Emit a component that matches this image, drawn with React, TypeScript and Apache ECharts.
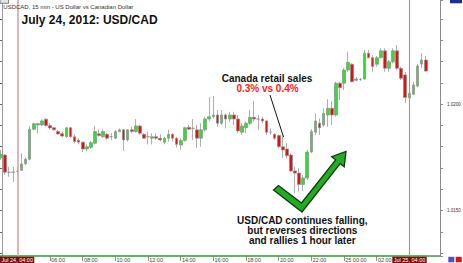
import React, { useEffect, useRef } from 'react';
import * as echarts from 'echarts';

// ---- data (USD/CAD 15-min candles, Jul 24 03:00 -> Jul 25 05:00) ----
const opens = [
  1.01748, 1.01761, 1.01680, 1.01680, 1.01684, 1.01689, 1.01720, 1.01741, 1.01882, 1.01902,
  1.01902, 1.01929, 1.01899, 1.01889, 1.01871, 1.01861, 1.01847, 1.01889, 1.01847, 1.01830,
  1.01821, 1.01789, 1.01797, 1.01816, 1.01861, 1.01847, 1.01858, 1.01847, 1.01840, 1.01871,
  1.01879, 1.01832, 1.01879, 1.01871, 1.01897, 1.01858, 1.01847, 1.01840, 1.01847, 1.01840,
  1.01821, 1.01840, 1.01858, 1.01840, 1.01808, 1.01829, 1.01891, 1.01886, 1.01879, 1.01840,
  1.01879, 1.01930, 1.01941, 1.01949, 1.01910, 1.01949, 1.01930, 1.01949, 1.01930, 1.01868,
  1.01889, 1.01910, 1.01938, 1.01930, 1.01930, 1.01921, 1.01868, 1.01858, 1.01852, 1.01800,
  1.01789, 1.01761, 1.01686, 1.01676, 1.01623, 1.01653, 1.01775, 1.01868, 1.01910, 1.01902,
  1.01949, 1.01980, 1.01949, 1.02098, 1.02098, 1.02160, 1.02187, 1.02112, 1.02116, 1.02118,
  1.02239, 1.02218, 1.02187, 1.02218, 1.02250, 1.02168, 1.02199, 1.02250, 1.02168, 1.02137,
  1.02030, 1.02046, 1.02085, 1.02188, 1.02207,
];
const closes = [
  1.01764, 1.01680, 1.01680, 1.01681, 1.01686, 1.01719, 1.01741, 1.01882, 1.01908, 1.01908,
  1.01921, 1.01899, 1.01888, 1.01880, 1.01860, 1.01850, 1.01889, 1.01847, 1.01824, 1.01821,
  1.01789, 1.01800, 1.01819, 1.01871, 1.01852, 1.01871, 1.01840, 1.01847, 1.01871, 1.01879,
  1.01832, 1.01879, 1.01871, 1.01897, 1.01863, 1.01840, 1.01847, 1.01847, 1.01840, 1.01832,
  1.01840, 1.01858, 1.01840, 1.01811, 1.01829, 1.01889, 1.01882, 1.01886, 1.01840, 1.01879,
  1.01930, 1.01941, 1.01949, 1.01910, 1.01949, 1.01930, 1.01949, 1.01930, 1.01874, 1.01897,
  1.01910, 1.01938, 1.01930, 1.01930, 1.01921, 1.01868, 1.01868, 1.01840, 1.01800, 1.01785,
  1.01758, 1.01686, 1.01676, 1.01623, 1.01653, 1.01775, 1.01871, 1.01921, 1.01889, 1.01957,
  1.01980, 1.01949, 1.02098, 1.02077, 1.02160, 1.02196, 1.02105, 1.02118, 1.02116, 1.02239,
  1.02218, 1.02176, 1.02218, 1.02250, 1.02168, 1.02199, 1.02250, 1.02168, 1.02121, 1.02031,
  1.02051, 1.02090, 1.02179, 1.02207, 1.02155,
];
const lows = [
  1.01738, 1.01667, 1.01659, 1.01633, 1.01672, 1.01686, 1.01714, 1.01736, 1.01877, 1.01863,
  1.01897, 1.01894, 1.01879, 1.01874, 1.01855, 1.01844, 1.01842, 1.01842, 1.01816, 1.01811,
  1.01774, 1.01780, 1.01789, 1.01811, 1.01847, 1.01842, 1.01832, 1.01832, 1.01836, 1.01868,
  1.01780, 1.01824, 1.01863, 1.01866, 1.01855, 1.01836, 1.01811, 1.01811, 1.01832, 1.01824,
  1.01811, 1.01824, 1.01824, 1.01796, 1.01785, 1.01824, 1.01879, 1.01832, 1.01793, 1.01800,
  1.01871, 1.01921, 1.01933, 1.01894, 1.01902, 1.01886, 1.01917, 1.01902, 1.01863, 1.01855,
  1.01863, 1.01902, 1.01917, 1.01879, 1.01910, 1.01855, 1.01855, 1.01832, 1.01793, 1.01746,
  1.01746, 1.01683, 1.01581, 1.01589, 1.01592, 1.01644, 1.01770, 1.01855, 1.01855, 1.01894,
  1.01894, 1.01902, 1.01941, 1.02019, 1.02066, 1.02152, 1.02102, 1.02106, 1.02109, 1.02113,
  1.02215, 1.02152, 1.02176, 1.02215, 1.02152, 1.02152, 1.02192, 1.02160, 1.02113, 1.02004,
  1.02026, 1.02043, 1.02079, 1.02168, 1.02152,
];
const highs = [
  1.01785, 1.01766, 1.01706, 1.01706, 1.01705, 1.01769, 1.01748, 1.01897, 1.01913, 1.01913,
  1.01929, 1.01933, 1.01910, 1.01894, 1.01879, 1.01871, 1.01892, 1.01892, 1.01858, 1.01840,
  1.01824, 1.01811, 1.01827, 1.01899, 1.01882, 1.01882, 1.01864, 1.01864, 1.01879, 1.01886,
  1.01883, 1.01883, 1.01894, 1.01930, 1.01902, 1.01864, 1.01871, 1.01863, 1.01863, 1.01858,
  1.01847, 1.01879, 1.01863, 1.01847, 1.01840, 1.01894, 1.01902, 1.01930, 1.01902, 1.01910,
  1.01941, 1.02033, 1.02038, 1.01972, 1.01972, 1.01957, 1.01964, 1.01964, 1.01949, 1.01910,
  1.01917, 1.01972, 1.02015, 1.01949, 1.01941, 1.01925, 1.01886, 1.01863, 1.01858, 1.01847,
  1.01816, 1.01769, 1.01706, 1.01699, 1.01667, 1.01785, 1.01883, 1.01957, 1.01933, 1.01980,
  1.02023, 1.02015, 1.02105, 1.02105, 1.02168, 1.02246, 1.02192, 1.02127, 1.02123, 1.02254,
  1.02254, 1.02230, 1.02226, 1.02262, 1.02262, 1.02207, 1.02262, 1.02277, 1.02176, 1.02151,
  1.02058, 1.02104, 1.02188, 1.02239, 1.02227,
];

// time slots: 15-minute bars starting Jul 24 03:00 (3 empty slots at the right edge)
const START_DAY = 24;
const START_MINUTES = 180;
const STEP_MINUTES = 15;
const SLOT_COUNT = 108;
const pad2 = (n: number) => (n < 10 ? '0' + n : '' + n);
const categories: string[] = Array.from({ length: SLOT_COUNT }, (_, i) => {
  const total = START_MINUTES + STEP_MINUTES * i;
  const day = START_DAY + Math.floor(total / 1440);
  const rem = total % 1440;
  return `Jul ${day} ${pad2(Math.floor(rem / 60))}:${pad2(rem % 60)}`;
});

const priceTickLabels = ['1.0200', '1.0150'];
const Y_MIN = 1.0128683;
const Y_MAX = 1.0248875;
const verticalLineSlots = [4, 100];
const verticalLineLabels = ['Jul 24, 04:00', 'Jul 25, 04:00'];

const headerText = 'USDCAD, 15 min - US Dollar vs Canadian Dollar';
const titleText = 'July 24, 2012: USD/CAD';
const note1 = 'Canada retail sales';
const note1b = '0.3% vs 0.4%';
const note2 = ['USD/CAD continues falling,', 'but reverses directions', 'and rallies 1 hour later'];

const FONT = '"Liberation Sans", Arial, sans-serif';

export default function App() {
  const ref = useRef<HTMLDivElement>(null);

  useEffect(() => {
    if (!ref.current) return;
    const chart = echarts.init(ref.current, undefined, { renderer: 'svg' });

    const candleData = opens.map((o, i) => [o, closes[i], lows[i], highs[i]]);
    const tickEvery = (index: number) => index % 8 === 4;
    // the 04:00 labels sit under the vertical-line date boxes
    const labelEvery = (index: number) => index % 8 === 4 && !verticalLineSlots.includes(index);

    const option: any = {
      animation: false,
      backgroundColor: '#ffffff',
      textStyle: { fontFamily: FONT },
      grid: { left: -1, top: 0, width: 441, height: 256, outerBoundsMode: 'none', containLabel: false },
      xAxis: {
        type: 'category',
        data: categories,
        boundaryGap: true,
        axisLine: { show: true, onZero: false, lineStyle: { color: '#2f9a2f', width: 1.5 } },
        axisTick: { show: true, interval: tickEvery, alignWithLabel: true, length: 5, lineStyle: { color: '#777777', width: 0.8 } },
        axisLabel: {
          interval: labelEvery,
          align: 'left',
          fontSize: 5.5,
          color: '#444444',
          margin: 1,
          padding: [0, 0, 0, 1.2],
          formatter: (val: string) => {
            const parts = val.split(' ');
            const t = parts[2];
            return t === '00:00' ? `${parts[1]} ${t}` : t;
          },
        },
        splitLine: { show: false },
      },
      yAxis: [
        {
          type: 'value',
          position: 'right',
          min: Y_MIN,
          max: Y_MAX,
          splitNumber: 12,
          scale: true,
          axisLine: { show: true, lineStyle: { color: '#8a8a8a', width: 1 } },
          axisTick: { show: true, length: 3, lineStyle: { color: '#8a8a8a' } },
          axisLabel: {
            fontSize: 4.5,
            color: '#333333',
            margin: 7,
            formatter: (v: number) => {
              const s = v.toFixed(4);
              return priceTickLabels.includes(s) && Math.abs(v - parseFloat(s)) < 1e-7 ? s : '';
            },
          },
          splitLine: { show: false },
        },
        {
          type: 'value',
          position: 'left',
          offset: -3,
          min: Y_MIN,
          max: Y_MAX,
          splitNumber: 12,
          scale: true,
          axisLine: { show: true, lineStyle: { color: '#9a9a9a', width: 1 } },
          axisTick: { show: true, length: 2, lineStyle: { color: '#666666' } },
          axisLabel: { show: false },
          splitLine: { show: false },
        },
      ],
      series: [
        {
          type: 'candlestick',
          yAxisIndex: 0,
          data: candleData,
          barWidth: 3.2,
          itemStyle: {
            color: '#2ee02e',
            color0: '#e01010',
            borderColor: '#8c8c8c',
            borderColor0: '#8c8c8c',
            borderWidth: 0.7,
          },
          markLine: {
            silent: true,
            symbol: ['none', 'none'],
            label: { show: false },
            animation: false,
            lineStyle: { color: '#d07070', width: 1, type: 'solid' },
            data: [
              { xAxis: verticalLineSlots[0], lineStyle: { color: '#d8a4a4', width: 1.6, type: 'solid' } },
              { xAxis: verticalLineSlots[1], lineStyle: { color: '#d87a7a', width: 1.1, type: 'solid' } },
            ],
          },
        },
      ],
      graphic: [
        // top-left "Data" tab and top-right tab
        { type: 'rect', z: 100, shape: { x: 0, y: -3, width: 8.5, height: 6.3 }, style: { fill: '#e4e4e4', stroke: '#555555', lineWidth: 0.7 } },
        { type: 'rect', z: 100, shape: { x: 450, y: -2, width: 12, height: 5.3 }, style: { fill: '#1f2f8f' } },
        // header
        {
          type: 'text', z: 100, x: 3.3, y: 6.9,
          style: { text: headerText, fontSize: 6, fontFamily: FONT, fill: '#333333', align: 'left', verticalAlign: 'middle' },
        },
        // title
        {
          type: 'text', z: 100, x: 21.5, y: 19.8,
          style: { text: titleText, fontSize: 12, fontWeight: 'bold', fontFamily: FONT, fill: '#111111', align: 'left', verticalAlign: 'middle' },
        },
        // annotation 1
        {
          type: 'text', z: 100, x: 267, y: 78.6,
          style: { text: note1, fontSize: 10, fontWeight: 'bold', fontFamily: FONT, fill: '#111111', align: 'center', verticalAlign: 'middle' },
        },
        {
          type: 'text', z: 100, x: 267.5, y: 88.4,
          style: { text: note1b, fontSize: 10, fontWeight: 'bold', fontFamily: FONT, fill: '#ff2020', align: 'center', verticalAlign: 'middle' },
        },
        { type: 'line', z: 100, shape: { x1: 270, y1: 95, x2: 283.5, y2: 137 }, style: { stroke: '#111111', lineWidth: 1 } },
        // check-mark arrow
        {
          type: 'polygon', z: 100,
          shape: {
            points: [
              [273.5, 190], [278.5, 185.5], [301.5, 203], [335.6, 159.85], [331.7, 156.7],
              [346, 151.5], [344.2, 166.7], [340.2, 163.55], [302, 212],
            ],
          },
          style: { fill: '#24aa24', stroke: '#0b3d0b', lineWidth: 1.3, lineJoin: 'miter' },
        },
        // annotation 2
        ...note2.map((t, k) => ({
          type: 'text', z: 100, x: 302.3, y: 220.8 + k * 10,
          style: { text: t, fontSize: 10, fontWeight: 'bold', fontFamily: FONT, fill: '#111111', align: 'center', verticalAlign: 'middle' },
        })),
        // vertical-line date boxes on the time axis
        { type: 'rect', z: 100, shape: { x: 0, y: 256.8, width: 34.3, height: 7 }, style: { fill: '#7d0c0c' } },
        {
          type: 'text', z: 101, x: 17.2, y: 260,
          style: { text: verticalLineLabels[0], fontSize: 5.5, fontFamily: FONT, fill: '#ffffff', align: 'center', verticalAlign: 'middle' },
        },
        { type: 'rect', z: 100, shape: { x: 392.3, y: 256.8, width: 34.4, height: 7 }, style: { fill: '#7d0c0c' } },
        {
          type: 'text', z: 101, x: 409.5, y: 260,
          style: { text: verticalLineLabels[1], fontSize: 5.5, fontFamily: FONT, fill: '#ffffff', align: 'center', verticalAlign: 'middle' },
        },
        { type: 'line', z: 100, shape: { x1: 427, y1: 255.5, x2: 440, y2: 255.5 }, style: { stroke: '#9a9a9a', lineWidth: 1 } },
        // bottom-right small tabs
        { type: 'rect', z: 100, shape: { x: 448.3, y: 256.8, width: 6, height: 5.5 }, style: { fill: '#5a4fc0' } },
        { type: 'rect', z: 100, shape: { x: 455.7, y: 256.8, width: 6, height: 5.5 }, style: { fill: '#c21c1c' } },
      ],
    };

    chart.setOption(option);
    return () => chart.dispose();
  }, []);

  return <div ref={ref} style={{ position: 'fixed', left: 0, top: 0, width: 463, height: 263 }} />;
}
